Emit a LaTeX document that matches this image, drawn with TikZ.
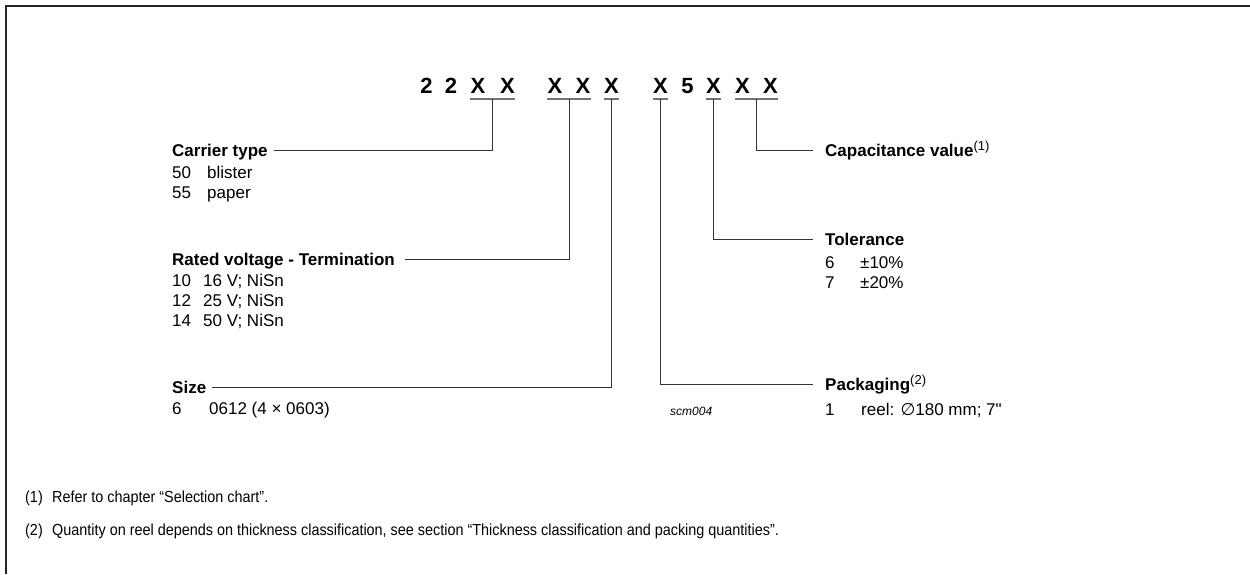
\documentclass[tikz,border=0pt]{standalone}
\usepackage{fontspec}
\setmainfont{Liberation Sans}
\newfontfamily\narrowfont[FakeStretch=0.9]{Liberation Sans}
\newfontfamily\rawsans[Ligatures=TeXOff]{Liberation Sans}
\newfontfamily\dejavu{DejaVu Sans}
\usetikzlibrary{calc}
\newcommand\supmark[1]{\raisebox{6pt}{\normalfont\fontsize{13}{13}\selectfont #1}}
\begin{document}
\begin{tikzpicture}[x=1pt,y=-1pt,
 codechar/.style={font=\fontsize{22}{22}\selectfont\bfseries, inner sep=0pt, anchor=base},
 head/.style={font=\fontsize{17}{17}\selectfont\bfseries, inner sep=0pt, anchor=base west, text height=14pt, text depth=2pt},
 body/.style={font=\fontsize{17}{17}\selectfont, inner sep=0pt, anchor=base west},
 uline/.style={draw=black!55, line width=1.1pt},
 lead/.style={draw=black!80, line width=0.9pt},
 foot/.style={font=\narrowfont\fontsize{16}{16}\selectfont, inner sep=0pt, anchor=base west},
 tag/.style={font=\fontsize{12}{12}\selectfont\itshape, inner sep=0pt, anchor=base west},
]
\useasboundingbox (0,0) rectangle (1250,574);
\draw[line width=1.6pt, black!85] (1250,6) -- (6,6) -- (6,574);

% code characters
\node[codechar] (c1) at (426.5,93) {2};
\node[codechar] (c2) at (451,93) {2};
\node[codechar] (c3) at (478,93) {X};
\node[codechar] (c4) at (507.5,93) {X};
\node[codechar] (c5) at (555,93) {X};
\node[codechar] (c6) at (583,93) {X};
\node[codechar] (c7) at (611.5,93) {X};
\node[codechar] (c8) at (660.5,93) {X};
\node[codechar] (c9) at (687.5,93) {5};
\node[codechar] (c10) at (713.5,93) {X};
\node[codechar] (c11) at (742.5,93) {X};
\node[codechar] (c12) at (770.5,93) {X};

% underlines
\draw[uline] ([yshift=-6pt]c3.base west) -- ([yshift=-6pt]c4.base east);
\draw[uline] ([yshift=-6pt]c5.base west) -- ([yshift=-6pt]c6.base east);
\draw[uline] ([yshift=-6pt]c7.base west) -- ([yshift=-6pt]c7.base east);
\draw[uline] ([yshift=-6pt]c8.base west) -- ([yshift=-6pt]c8.base east);
\draw[uline] ([yshift=-6pt]c10.base west) -- ([yshift=-6pt]c10.base east);
\draw[uline] ([yshift=-6pt]c11.base west) -- ([yshift=-6pt]c12.base east);
\coordinate (g1) at ($(c3.base west)!0.5!(c4.base east)+(0,6)$);
\coordinate (g2) at ($(c5.base west)!0.5!(c6.base east)+(0,6)$);
\coordinate (g3) at ($(c7.base)+(0,6)$);
\coordinate (g4) at ($(c8.base)+(0,6)$);
\coordinate (g5) at ($(c10.base)+(0,6)$);
\coordinate (g6) at ($(c11.base west)!0.5!(c12.base east)+(0,6)$);

% left headings
\node[head] (ct) at (172,156) {Carrier type};
\node[body] (ct1a) at (172,178) {50};
\node[body] (ct1b) at (207,178) {blister};
\node[body] (ct2a) at (172,198) {55};
\node[body] (ct2b) at (207,198) {paper};

\node[head] (rv) at (172,265) {Rated voltage - Termination};
\node[body] (rv1a) at (172,286) {10};
\node[body] (rv1b) at (203,286) {16 V; NiSn};
\node[body] (rv2a) at (172,306) {12};
\node[body] (rv2b) at (203,306) {25 V; NiSn};
\node[body] (rv3a) at (172,326) {14};
\node[body] (rv3b) at (203,326) {50 V; NiSn};

\node[head] (sz) at (172,393) {Size};
\node[body] (sz1a) at (172,414) {6};
\node[body] (sz1b) at (209,414) {0612 (4 × 0603)};

% right headings
\node[head] (cap) at (825,156) {Capacitance value\supmark{(1)}};

\node[head] (tol) at (825,245) {Tolerance};
\node[body] (tol1a) at (825,268) {6};
\node[body] (tol1b) at (860,268) {±10\%};
\node[body] (tol2a) at (825,288) {7};
\node[body] (tol2b) at (860,288) {±20\%};

\node[head] (pk) at (825,390) {Packaging\supmark{(2)}};
\node[body] (pk1a) at (825,415) {1};
\node[body] (pk1b) at (861,415) {reel: {\dejavu ∅}180 mm; 7{\rawsans "}};

\node[tag] (scm) at (670,415) {scm004};

% leaders
\draw[lead] (g1) |- ([xshift=6pt]ct.east);
\draw[lead] (g2) |- ([xshift=10pt]rv.east);
\draw[lead] (g3) |- ([xshift=6pt]sz.east);
\draw[lead] (g4) |- ([xshift=-12pt]pk.west);
\draw[lead] (g5) |- ([xshift=-12pt]tol.west);
\draw[lead] (g6) |- ([xshift=-12pt]cap.west);

% footnotes
\node[foot] (f1a) at (25,502) {(1)};
\node[foot] (f1b) at (52,502) {Refer to chapter “Selection chart”.};
\node[foot] (f2a) at (25,535) {(2)};
\node[foot] (f2b) at (52,535) {Quantity on reel depends on thickness classification, see section “Thickness classification and packing quantities”.};
\end{tikzpicture}
\end{document}
